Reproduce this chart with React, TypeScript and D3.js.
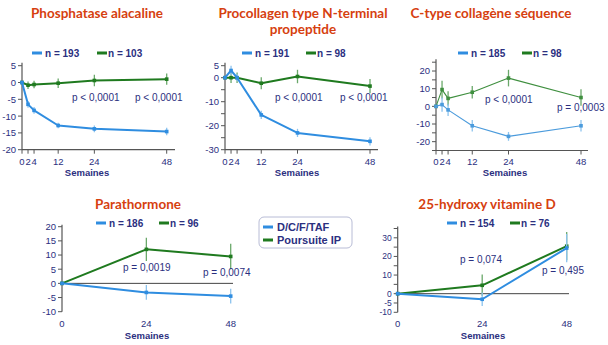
import React from 'react';
import * as d3 from 'd3';

// ---------- data ----------
const weeksTop = [0, 2, 4, 12, 24, 48];
const weeksBottom = [0, 24, 48];

const palBlue = [0, -6.5, -8.3, -12.8, -13.8, -14.6];
const palBlueErr = [0, 1, 1, 0.8, 1, 1.1];
const palGreen = [0, -0.8, -0.6, -0.2, 0.6, 1.0];
const palGreenErr = [0, 1.1, 1.1, 1.4, 1.7, 1.7];

const p1npBlue = [0, 3, 0, -15.5, -23, -26.5];
const p1npBlueErr = [0, 2, 1.5, 1.7, 1.7, 1.7];
const p1npGreen = [0, 0, 0, -2.3, 0.5, -3.5];
const p1npGreenErr = [0, 2.2, 2.2, 2.5, 2.8, 3];

const ctxBlue = [0, 1, -2, -11, -17, -11];
const ctxBlueErr = [0, 4, 3.5, 3.3, 2.5, 3.3];
const ctxGreen = [0, 9.5, 4.5, 8, 16, 5];
const ctxGreenErr = [0, 5, 4, 3.5, 4.7, 4.7];

const pthBlue = [0, -3.2, -4.5];
const pthBlueErr = [0, 2.6, 2.6];
const pthGreen = [0, 12, 9.5];
const pthGreenErr = [0, 4.1, 4.5];

const vitBlue = [0, -3, 24.5];
const vitBlueErr = [0, 3.6, 7.6];
const vitGreen = [0, 4.5, 25.5];
const vitGreenErr = [0, 5.8, 7.6];

const legendLabels = ['D/C/F/TAF', 'Poursuite IP'];

// ---------- style ----------
const BLUE = '#2f8de0';
const GREEN = '#1f7a1f';
const BLUE_ERR = '#8cc3ee';
const GREEN_ERR = '#6aa86a';
const NAVY = '#2b2f80';
const TITLE = '#d6400f';
const AXIS = '#555555';
const FONT = '"Liberation Sans", Arial, sans-serif';
const TFONT = 'Lato, "Open Sans", sans-serif';

type Panel = {
  title: string[];
  titleX: number;
  titleY: number;
  weeks: number[];
  blue: number[]; blueErr: number[];
  green: number[]; greenErr: number[];
  nBlue: string; nGreen: string;
  legX: [number, number]; legY: number;
  xRange: [number, number]; xEnd: number;
  yDomain: [number, number]; yRange: [number, number];
  yLabels: number[]; yFont: number;
  bottomAxis: boolean;
  zeroLine: boolean;
  tickY: number; semY: number; semX: number;
  pvals: { t: string; x: number; y: number }[];
  lw: number; blueC: string; greenC: string;
};

const panels: Panel[] = [
  {
    title: ['Phosphatase  alacaline'], titleX: 97, titleY: 18,
    weeks: weeksTop, blue: palBlue, blueErr: palBlueErr, green: palGreen, greenErr: palGreenErr,
    nBlue: 'n = 193', nGreen: 'n = 103', legX: [32, 97], legY: 53,
    xRange: [22, 166.7], xEnd: 175, yDomain: [-20, 5], yRange: [149.7, 65.7],
    yLabels: [5, 0, -5, -10, -15, -20], yFont: 9.5, bottomAxis: true, zeroLine: false,
    tickY: 165, semY: 176, semX: 87,
    pvals: [{ t: 'p < 0,0001', x: 72, y: 101 }, { t: 'p < 0,0001', x: 135, y: 101 }],
    lw: 2, blueC: BLUE, greenC: GREEN,
  },
  {
    title: ['Procollagen type N-terminal', 'propeptide'], titleX: 303, titleY: 18,
    weeks: weeksTop, blue: p1npBlue, blueErr: p1npBlueErr, green: p1npGreen, greenErr: p1npGreenErr,
    nBlue: 'n = 191', nGreen: 'n = 98', legX: [242, 306], legY: 53,
    xRange: [225, 370], xEnd: 378, yDomain: [-30, 5], yRange: [149.7, 65.7],
    yLabels: [5, 0, -10, -20, -30], yFont: 9.5, bottomAxis: true, zeroLine: false,
    tickY: 165, semY: 176, semX: 297,
    pvals: [{ t: 'p < 0,0001', x: 275, y: 101 }, { t: 'p < 0,0001', x: 340, y: 101 }],
    lw: 2, blueC: BLUE, greenC: GREEN,
  },
  {
    title: ['C-type collagène séquence'], titleX: 491, titleY: 18,
    weeks: weeksTop, blue: ctxBlue, blueErr: ctxBlueErr, green: ctxGreen, greenErr: ctxGreenErr,
    nBlue: 'n = 185', nGreen: 'n = 98', legX: [458, 522], legY: 53,
    xRange: [436, 581], xEnd: 588, yDomain: [-25, 25], yRange: [150.5, 62.2],
    yLabels: [20, 10, 0, -10, -20], yFont: 9.5, bottomAxis: true, zeroLine: false,
    tickY: 165, semY: 176, semX: 505,
    pvals: [{ t: 'p < 0,0001', x: 485, y: 103 }, { t: 'p = 0,0003', x: 557, y: 111 }],
    lw: 1.1, blueC: '#4b9bdc', greenC: '#3f8f3f',
  },
  {
    title: ['Parathormone'], titleX: 138, titleY: 209,
    weeks: weeksBottom, blue: pthBlue, blueErr: pthBlueErr, green: pthGreen, greenErr: pthGreenErr,
    nBlue: 'n = 186', nGreen: 'n = 96', legX: [96, 159], legY: 223,
    xRange: [62, 230.7], xEnd: 233, yDomain: [-10, 20], yRange: [311.7, 226.7],
    yLabels: [20, 15, 10, 5, 0, -5, -10], yFont: 9.5, bottomAxis: false, zeroLine: true,
    tickY: 327, semY: 339, semX: 147,
    pvals: [{ t: 'p = 0,0019', x: 123, y: 271 }, { t: 'p = 0,0074', x: 203, y: 276 }],
    lw: 2, blueC: BLUE, greenC: GREEN,
  },
  {
    title: ['25-hydroxy vitamine D'], titleX: 487, titleY: 209,
    weeks: weeksBottom, blue: vitBlue, blueErr: vitBlueErr, green: vitGreen, greenErr: vitGreenErr,
    nBlue: 'n = 154', nGreen: 'n = 76', legX: [447, 510], legY: 223,
    xRange: [397.7, 566.7], xEnd: 569, yDomain: [-10, 35], yRange: [312.3, 228.5],
    yLabels: [30, 20, 10, 0, -5, -10], yFont: 8.5, bottomAxis: false, zeroLine: true,
    tickY: 327, semY: 339, semX: 483,
    pvals: [{ t: 'p = 0,074', x: 460, y: 263 }, { t: 'p = 0,495', x: 542, y: 274 }],
    lw: 2, blueC: BLUE, greenC: GREEN,
  },
];

function Series({ weeks, vals, errs, x, y, color, errColor, lw }: any) {
  const line = d3.line<number>().x((_, i) => x(weeks[i])).y((d) => y(d));
  return (
    <g>
      {vals.map((v: number, i: number) =>
        errs[i] > 0 ? (
          <line key={'e' + i} x1={x(weeks[i])} x2={x(weeks[i])} y1={y(v - errs[i])} y2={y(v + errs[i])}
            stroke={errColor} strokeWidth={1.3} />
        ) : null
      )}
      <path d={line(vals) || ''} fill="none" stroke={color} strokeWidth={lw} strokeLinejoin="round" />
      {vals.map((v: number, i: number) => (
        <rect key={'m' + i} x={x(weeks[i]) - 1.8} y={y(v) - 1.8} width={3.6} height={3.6} fill={color} />
      ))}
    </g>
  );
}

function ChartPanel({ p }: { p: Panel }) {
  const x = d3.scaleLinear().domain([0, 48]).range(p.xRange);
  const y = d3.scaleLinear().domain(p.yDomain).range(p.yRange);
  const ticks = d3.range(p.yDomain[0], p.yDomain[1] + 0.001, 5);
  const x0 = p.xRange[0];
  const yTop = y(p.yDomain[1]) - (p.bottomAxis ? 3 : 2);
  const yBot = y(p.yDomain[0]);
  return (
    <g>
      {p.title.map((t, i) => (
        <text key={i} x={p.titleX} y={p.titleY + i * 16} textAnchor="middle" fill={TITLE}
          fontFamily={TFONT} fontWeight="bold" fontSize={13.5}>{t}</text>
      ))}
      {/* legend */}
      <line x1={p.legX[0]} x2={p.legX[0] + 10} y1={p.legY} y2={p.legY} stroke={BLUE} strokeWidth={3} />
      <text x={p.legX[0] + 13} y={p.legY + 3.5} fill={NAVY} fontFamily={FONT} fontWeight="bold" fontSize={10}>{p.nBlue}</text>
      <line x1={p.legX[1]} x2={p.legX[1] + 10} y1={p.legY} y2={p.legY} stroke={GREEN} strokeWidth={3} />
      <text x={p.legX[1] + 11} y={p.legY + 3.5} fill={NAVY} fontFamily={FONT} fontWeight="bold" fontSize={10}>{p.nGreen}</text>
      {/* y axis */}
      <line x1={x0} x2={x0} y1={yTop} y2={yBot} stroke={AXIS} strokeWidth={1.2} />
      {ticks.map((t) => (
        <line key={'t' + t} x1={x0 - 4} x2={x0} y1={y(t)} y2={y(t)} stroke={AXIS} strokeWidth={1} />
      ))}
      {p.yLabels.map((t) => (
        <text key={'l' + t} x={x0 - 6} y={y(t) + p.yFont * 0.36} textAnchor="end" fill={NAVY}
          fontFamily={FONT} fontSize={p.yFont}>{t}</text>
      ))}
      {/* x axis */}
      {p.bottomAxis && (
        <g>
          <line x1={x0} x2={p.xEnd} y1={yBot} y2={yBot} stroke={AXIS} strokeWidth={1.2} />
          {p.weeks.map((w) => (
            <line key={'xt' + w} x1={x(w)} x2={x(w)} y1={yBot} y2={yBot + 4} stroke={AXIS} strokeWidth={1} />
          ))}
        </g>
      )}
      {p.zeroLine && (
        <line x1={x0} x2={p.xEnd} y1={y(0)} y2={y(0)} stroke="#444" strokeWidth={1} />
      )}
      {p.weeks.map((w) => (
        <text key={'xl' + w} x={x(w)} y={p.tickY} textAnchor="middle" fill={NAVY}
          fontFamily={FONT} fontSize={9.5}>{w}</text>
      ))}
      <text x={p.semX} y={p.semY} textAnchor="middle" fill={NAVY} fontFamily={FONT}
        fontWeight="bold" fontSize={9.5}>Semaines</text>
      {/* series */}
      <Series weeks={p.weeks} vals={p.green} errs={p.greenErr} x={x} y={y} color={p.greenC} errColor={GREEN_ERR} lw={p.lw} />
      <Series weeks={p.weeks} vals={p.blue} errs={p.blueErr} x={x} y={y} color={p.blueC} errColor={BLUE_ERR} lw={p.lw} />
      {p.pvals.map((pv, i) => (
        <text key={'p' + i} x={pv.x} y={pv.y} fill={NAVY} fontFamily={FONT} fontSize={10}>{pv.t}</text>
      ))}
    </g>
  );
}

export default function App() {
  return (
    <svg width={608} height={345} style={{ position: 'absolute', left: 0, top: 0, background: '#fff' }}>
      <rect width={608} height={345} fill="#fff" />
      {panels.map((p, i) => <ChartPanel key={i} p={p} />)}
      {/* central legend */}
      <rect x={259} y={217} width={93} height={31} rx={5} fill="#fff" stroke="#b8bcd6" strokeWidth={1} />
      <line x1={263} x2={273} y1={227} y2={227} stroke={BLUE} strokeWidth={3} />
      <text x={277} y={231} fill={NAVY} fontFamily={FONT} fontWeight="bold" fontSize={11}>{legendLabels[0]}</text>
      <line x1={263} x2={273} y1={240} y2={240} stroke={GREEN} strokeWidth={3} />
      <text x={277} y={244} fill={NAVY} fontFamily={FONT} fontWeight="bold" fontSize={11}>{legendLabels[1]}</text>
    </svg>
  );
}
